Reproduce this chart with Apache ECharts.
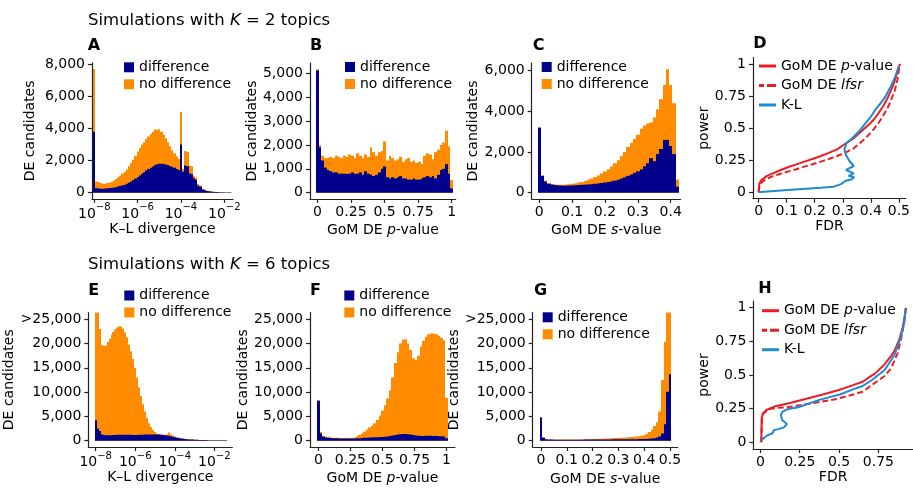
<!DOCTYPE html>
<html><head><meta charset="utf-8">
<script src="https://cdn.jsdelivr.net/npm/echarts@6/dist/echarts.min.js"></script>
<style>html,body{margin:0;padding:0;background:#fff}#c{width:913px;height:488px}</style>
</head><body><div id="c"></div>
<script>
// ---------------- DATA ----------------
// Panel A: K-L divergence histogram (log10 bins, width 0.1, first centre -8.0)
const aFirstBin = -8.0, aBinWidth = 0.1;
const aAll  = [7700, 700,650,600,560,560,600,620,680,750,850, 950,1050,1200,1300,1450,1650,1850,2050,2300,2550, 2800,3000,3150,3350,3500,3650,3800,3950,3900,3950, 3800,3600,3400,3150,2900,2650,2450,2250,2100,5050, 1500,2600,2550,1700,1650,1050,950,550,450,250, 200,130,100,80,60,50,40,35,30,30, 25,25,20];
const aDiff = [3800, 280,260,250,250,260,270,290,300,320,340, 380,420,460,500,560,620,700,780,880,980, 1080,1180,1280,1380,1480,1560,1640,1720,1780,1800, 1800,1790,1760,1720,1670,1620,1560,1480,1420,3000, 1300,1700,1650,1200,1150,900,800,450,380,200, 160,110,85,70,55,45,38,32,28,28, 23,22,18];
// Panel B: GoM DE p-value histogram (bin width 0.02, first centre 0)
const bFirstBin = 0, bBinWidth = 0.02;
const bAll  = [5170,2000,1550,1450,1450,1500,1450,1550,1500,1450, 1550,1500,1600,1550,1450,1650,1550,1450,1600,1500, 1900,1700,1550,1700,1750,2150,1350,1550,1450,1350, 1400,1500,1300,1400,1450,1300,1350,1250,1300,1200, 1550,1650,1600,1400,1700,1800,2000,2100,2600,1950, 530];
const bDiff = [5120,1900,1350,1050,950,900,850,850,800,800, 800,780,800,850,780,800,850,750,900,800, 750,700,750,850,1000,1100,650,600,650,600, 650,700,600,600,550,550,600,550,550,600, 650,700,650,700,600,750,950,1000,1200,800, 180];
// Panel C: GoM DE s-value histogram (bin width 0.01, first centre 0)
const cFirstBin = 0, cBinWidth = 0.01;
const cAll  = [3200,850,600,470,420,400,400,390,400,420, 440,460,500,530,580,640,700,770,850,950, 1050,1150,1300,1450,1600,1800,2000,2250,2450,2650, 2850,3150,3300,3400,3450,3700,4100,4600,5300,6070, 5300,4400,650];
const cDiff = [3200,830,550,440,400,380,360,350,350,350, 360,370,380,390,400,410,420,440,460,480, 500,530,560,600,640,700,760,830,900,980, 1050,1150,1300,1450,1700,1550,1900,2150,2600,2600, 2300,1900,300];
// Panel D: power vs FDR, K = 2  ([FDR, power])
const dPval = [[0,0],[0.001,0.04],[0.003,0.07],[0.01,0.095],[0.016,0.109],[0.03,0.128],[0.046,0.143],[0.075,0.17],[0.104,0.195],[0.135,0.218],[0.163,0.239],[0.192,0.26],[0.222,0.283],[0.25,0.307],[0.28,0.335],[0.31,0.38],[0.339,0.421],[0.374,0.491],[0.392,0.525],[0.41,0.565],[0.427,0.616],[0.445,0.675],[0.462,0.745],[0.475,0.81],[0.486,0.875],[0.495,0.94],[0.5,0.98],[0.505,1.0]];
const dLfsr = [[0,0],[0.003,0.05],[0.01,0.075],[0.022,0.096],[0.046,0.122],[0.075,0.142],[0.104,0.161],[0.135,0.18],[0.163,0.2],[0.192,0.219],[0.222,0.239],[0.25,0.26],[0.28,0.283],[0.31,0.31],[0.339,0.343],[0.374,0.408],[0.392,0.447],[0.41,0.49],[0.427,0.538],[0.445,0.6],[0.462,0.668],[0.476,0.74],[0.486,0.797],[0.495,0.88],[0.5,0.953],[0.503,0.99]];
const dKL   = [[0,0],[0.02,0.005],[0.104,0.018],[0.222,0.036],[0.268,0.044],[0.294,0.064],[0.31,0.09],[0.33,0.1],[0.341,0.117],[0.321,0.127],[0.339,0.148],[0.312,0.174],[0.339,0.205],[0.324,0.244],[0.311,0.291],[0.306,0.335],[0.313,0.382],[0.339,0.433],[0.36,0.48],[0.378,0.53],[0.4,0.59],[0.42,0.655],[0.437,0.7],[0.453,0.75],[0.47,0.82],[0.485,0.89],[0.495,0.95],[0.5,0.985]];
// Panel E: K-L divergence histogram, K = 6 (log10 bins, width 0.1, first centre -8.0)
const eFirstBin = -8.0, eBinWidth = 0.1;
const eAll  = [26600,26600,23000,19700,19500,19600,20300,21000,21800,22400, 22900,23300,23500,23500,23100,22300,21300,19800,18400,16800, 15000,13000,11000,9200,7500,6000,4700,3600,2800,2200, 1800,1500,1400,1350,1300,1250,1300,1700,1300,1000, 850,700,600,520,450,400,350,300,270,240, 210,190,170,160,150,140,130,120,110,100, 100,95,90,85,80,80,70];
const eDiff = [4200,2500,2000,1300,1150,1100,1100,1100,1100,1150, 1150,1200,1200,1200,1200,1200,1200,1200,1200,1150, 1150,1150,1200,1200,1200,1250,1250,1250,1300,1300, 1300,1300,1250,1200,1150,1100,1050,1000,900,800, 700,600,520,450,400,350,300,270,240,220, 200,180,160,150,140,130,120,110,105,95, 95,90,85,80,75,75,65];
// Panel F: GoM DE p-value histogram, K = 6
const fFirstBin = 0, fBinWidth = 0.02;
const fAll  = [8300,1800,1000,800,700,650,600,600,600,550, 550,600,550,550,650,900,1200,1500,1900,2300, 2700,3100,3600,4300,5200,6200,7300,8700,10400,13000, 16000,18200,20000,20800,20900,20000,18700,17000,16600,17500, 19400,20600,21400,21900,22100,22100,21900,21600,21200,20700, 8800];
const fDiff = [8200,1500,800,650,600,550,500,480,470,450, 450,450,440,440,450,480,500,550,600,620, 650,680,700,720,750,780,820,880,950,1050, 1150,1250,1350,1400,1400,1350,1250,1150,1050,1000, 950,950,1000,1000,1000,950,950,900,900,850, 500];
// Panel G: GoM DE s-value histogram, K = 6
const gFirstBin = 0, gBinWidth = 0.01;
const gAll  = [4800,700,320,260,240,230,220,220,220,220, 230,230,240,250,260,270,280,290,300,320, 340,360,380,400,420,440,470,500,530,560, 590,620,650,680,720,760,800,850,900,1000, 1100,1400,1800,2300,3000,3800,6000,12500,20400,26600, 26600];
const gDiff = [4800,600,300,240,220,210,200,200,200,200, 200,200,205,205,210,210,215,220,225,230, 235,240,245,250,255,260,265,270,275,280, 285,290,295,300,305,310,315,320,325,330, 340,360,400,450,520,650,850,1500,3400,10100, 13700];
// Panel H: power vs FDR, K = 6
const hPval = [[0.006,0],[0.007,0.1],[0.008,0.178],[0.015,0.21],[0.038,0.24],[0.1,0.27],[0.181,0.29],[0.28,0.32],[0.385,0.351],[0.5,0.389],[0.589,0.425],[0.65,0.45],[0.7,0.49],[0.73,0.512],[0.79,0.58],[0.83,0.64],[0.852,0.68],[0.882,0.76],[0.903,0.847],[0.917,0.933],[0.923,0.988],[0.925,1.0]];
const hLfsr = [[0.006,0],[0.008,0.1],[0.012,0.19],[0.018,0.215],[0.059,0.247],[0.098,0.255],[0.181,0.262],[0.281,0.28],[0.385,0.301],[0.485,0.322],[0.589,0.355],[0.65,0.376],[0.709,0.426],[0.79,0.493],[0.831,0.55],[0.872,0.661],[0.897,0.785],[0.913,0.884],[0.923,0.97],[0.925,1.0]];
const hKL   = [[0.008,0.017],[0.038,0.047],[0.077,0.067],[0.087,0.091],[0.108,0.096],[0.149,0.111],[0.169,0.136],[0.138,0.166],[0.13,0.203],[0.141,0.227],[0.171,0.245],[0.24,0.26],[0.385,0.319],[0.505,0.355],[0.589,0.393],[0.65,0.418],[0.709,0.463],[0.79,0.537],[0.852,0.649],[0.893,0.785],[0.913,0.884],[0.921,0.97],[0.923,0.99]];
// Tick values
const logTicks = [-8,-6,-4,-2];
const aYTicks = [0,2000,4000,6000,8000];
const bYTicks = [0,1000,2000,3000,4000,5000];
const cYTicks = [0,2000,4000,6000];
const bigYTicks = [0,5000,10000,15000,20000,25000];
const pTicks = [0,0.25,0.5,0.75,1];
const cXTicks = [0,0.1,0.2,0.3,0.4];
const dXTicks = [0,0.1,0.2,0.3,0.4,0.5];
const gXTicks = [0,0.1,0.2,0.3,0.4,0.5];
const powTicks = [0,0.25,0.5,0.75,1];
const hXTicks = [0,0.25,0.5,0.75];

// ---------------- STYLE ----------------
const FF = "'DejaVu Sans', sans-serif";
const colDiff = '#00008B', colNo = '#FF8C00', colRed = '#EC1C24', colBlue = '#1C8BD3';
const axCol = '#222';
const FS = 14;

const chart = echarts.init(document.getElementById('c'), null, {renderer:'canvas'});

const grid = [], xAxis = [], yAxis = [], series = [];
const richBase = {
  n:{fontSize:FS, fontFamily:FF, color:'#000'},
  i:{fontSize:FS, fontFamily:FF, color:'#000', fontStyle:'italic'}
};
function comma(v){ return String(v).replace(/\B(?=(\d{3})+(?!\d))/g, ','); }

function addPanel(p){
  const idx = grid.length;
  grid.push({left:p.g[0], top:p.g[1], width:p.g[2], height:p.g[3], containLabel:false});
  const isLog = p.log;
  xAxis.push({
    type:'value', gridIndex:idx, min:p.xr[0], max:p.xr[1],
    axisLine:{show:true, onZero:false, lineStyle:{color:axCol, width:1.2}},
    axisTick:{show:true, length:4, lineStyle:{color:axCol, width:1.2}, customValues:p.xt},
    splitLine:{show:false},
    axisLabel: isLog ? {
      customValues:p.xt, margin:p.xm,
      formatter: v => '{b|10}{s|\u2212' + Math.abs(v) + '}',
      rich:{b:{fontSize:FS, fontFamily:FF, color:'#000', lineHeight:18, verticalAlign:'bottom'},
            s:{fontSize:10, fontFamily:FF, color:'#000', lineHeight:10, verticalAlign:'top'}}
    } : {customValues:p.xt, margin:p.xm, fontSize:FS, fontFamily:FF, color:'#000', formatter: v => String(v)},
    name:p.xn, nameLocation:'middle', nameGap:p.xg,
    nameTextStyle:{fontSize:FS, fontFamily:FF, color:'#000', rich:richBase}
  });
  yAxis.push({
    type:'value', gridIndex:idx, min:p.yr[0], max:p.yr[1],
    axisLine:{show:true, onZero:false, lineStyle:{color:axCol, width:1.2}},
    axisTick:{show:true, length:4, lineStyle:{color:axCol, width:1.2}, customValues:p.yt},
    splitLine:{show:false},
    axisLabel:{customValues:p.yt, margin:7, fontSize:FS, fontFamily:FF, color:'#000',
      formatter: v => (p.cap && v === p.cap) ? '>' + comma(v) : (v >= 1000 ? comma(v) : String(v))},
    name:p.yn, nameLocation:'middle', nameGap:p.yg, nameRotate:90,
    nameTextStyle:{fontSize:FS, fontFamily:FF, color:'#000'}
  });
  if (p.hist) {
    const h = p.hist;
    const mk = (vals, color, name) => ({
      type:'custom', name, xAxisIndex:idx, yAxisIndex:idx, clip:true, silent:true,
      itemStyle:{color}, encode:{x:[0,1], y:2},
      data: vals.map((v,i) => [h.first + (i-0.5)*h.width, h.first + (i+0.5)*h.width, v]),
      renderItem:(params, api) => {
        const p0 = api.coord([api.value(0), api.value(2)]);
        const p1 = api.coord([api.value(1), 0]);
        const x0 = Math.round(p0[0]), x1 = Math.round(p1[0]);
        return {type:'rect', shape:{x:x0, y:p0[1], width:Math.max(1, x1-x0), height:p1[1]-p0[1]},
                style:{fill:color}};
      }
    });
    series.push(mk(h.all, colNo, 'no difference'));
    series.push(mk(h.diff, colDiff, 'difference'));
  }
  if (p.lines) {
    p.lines.forEach(l => series.push({
      type:'line', name:l.name, xAxisIndex:idx, yAxisIndex:idx, data:l.data,
      showSymbol:false, symbol:'none', smooth:false, silent:true,
      lineStyle:{color:l.color, width:2, type:l.dash ? [6,3] : 'solid'},
      itemStyle:{color:l.color}
    }));
  }
}

const xName = (a,b,c) => '{n|' + a + '}{i|' + b + '}{n|' + c + '}';

addPanel({g:[92,62.9,141,136], xr:[-8.106,-1.598], yr:[-385,8085], log:true, xt:logTicks, xm:4, yt:aYTicks,
  xn:'K\u2013L divergence', xg:23, yn:'DE candidates', yg:55,
  hist:{first:aFirstBin, width:aBinWidth, all:aAll, diff:aDiff}});
addPanel({g:[310,63.1,145.7,135.8], xr:[-0.055,1.03], yr:[-258,5428], xt:pTicks, xm:6, yt:bYTicks,
  xn:xName('GoM DE ','p','-value'), xg:24, yn:'DE candidates', yg:46,
  hist:{first:bFirstBin, width:bBinWidth, all:bAll, diff:bDiff}});
addPanel({g:[531.7,63.1,148.9,135.8], xr:[-0.023,0.43], yr:[-303,6373], xt:cXTicks, xm:6, yt:cYTicks,
  xn:xName('GoM DE ','s','-value'), xg:24, yn:'DE candidates', yg:46,
  hist:{first:cFirstBin, width:cBinWidth, all:cAll, diff:cDiff}});
addPanel({g:[753,57.6,154.8,141.1], xr:[-0.02,0.525], yr:[-0.05,1.05], xt:dXTicks, xm:6, yt:powTicks,
  xn:'FDR', xg:19, yn:'power', yg:40,
  lines:[{name:'GoM DE p-value', data:dPval, color:colRed},
         {name:'GoM DE lfsr', data:dLfsr, color:colRed, dash:true},
         {name:'K-L', data:dKL, color:colBlue}]});
addPanel({g:[88.3,312.5,144,134.5], xr:[-8.374,-1.09], yr:[-1300,26400], log:true, xt:logTicks, xm:4, yt:bigYTicks, cap:25000,
  xn:'K\u2013L divergence', xg:22, yn:'DE candidates', yg:61,
  hist:{first:eFirstBin, width:eBinWidth, all:eAll, diff:eDiff}});
addPanel({g:[310,312.5,144.9,134.5], xr:[-0.065,1.065], yr:[-1300,26400], xt:pTicks, xm:6, yt:bigYTicks,
  xn:xName('GoM DE ','p','-value'), xg:24, yn:'DE candidates', yg:53,
  hist:{first:fFirstBin, width:fBinWidth, all:fAll, diff:fDiff}});
addPanel({g:[532.7,312.5,145,134.5], xr:[-0.032,0.53], yr:[-1300,26400], xt:gXTicks, xm:6, yt:bigYTicks, cap:25000,
  xn:xName('GoM DE ','s','-value'), xg:25, yn:'DE candidates', yg:61,
  hist:{first:gFirstBin, width:gBinWidth, all:gAll, diff:gDiff}});
addPanel({g:[753.3,301,166.1,148], xr:[-0.045,0.97], yr:[-0.05,1.05], xt:hXTicks, xm:6, yt:powTicks,
  xn:'FDR', xg:15, yn:'power', yg:37,
  lines:[{name:'GoM DE p-value', data:hPval, color:colRed},
         {name:'GoM DE lfsr', data:hLfsr, color:colRed, dash:true},
         {name:'K-L', data:hKL, color:colBlue}]});

const histLegend = (left, top) => ({
  left, top, orient:'vertical', padding:0, itemGap:1, itemWidth:10, itemHeight:10, icon:'rect',
  selectedMode:false, data:['difference','no difference'],
  textStyle:{fontSize:FS, fontFamily:FF, color:'#000', lineHeight:16}
});
const solidIcon = 'path://M0,0H17V3H0Z';
const dashIcon = 'path://M0,0H5V3H0Z M8,0H17V3H8Z';
const lineLegend = (left, top) => ({
  left, top, orient:'vertical', padding:0, itemGap:3.5, itemWidth:17, itemHeight:3,
  selectedMode:false,
  data:[{name:'GoM DE p-value', icon:solidIcon},{name:'GoM DE lfsr', icon:dashIcon},{name:'K-L', icon:solidIcon}],
  formatter: n => n === 'GoM DE p-value' ? '{n|GoM DE }{i|p}{n|-value}' : (n === 'GoM DE lfsr' ? '{n|GoM DE }{i|lfsr}' : '{n|K-L}'),
  textStyle:{fontSize:FS, fontFamily:FF, color:'#000', lineHeight:16,
    rich:{n:{fontSize:FS, fontFamily:FF, color:'#000', lineHeight:16},
          i:{fontSize:FS, fontFamily:FF, color:'#000', lineHeight:16, fontStyle:'italic'}}}
});

const titleRich = {n:{fontSize:16.5, fontFamily:FF, fill:'#000'}, i:{fontSize:16.5, fontFamily:FF, fill:'#000', fontStyle:'italic'}};
const letter = (t, x, y) => ({type:'text', left:x, top:y, style:{text:t, fontSize:16, fontWeight:'bold', fontFamily:FF, fill:'#000'}});

chart.setOption({
  animation:false,
  backgroundColor:'#fff',
  grid, xAxis, yAxis, series,
  legend:[histLegend(124,59.3), histLegend(345,59), histLegend(541.7,59), lineLegend(759,58),
          histLegend(124.3,287.5), histLegend(344.3,287.5), histLegend(542.7,309.3), lineLegend(762,302.7)],
  graphic:[
    {type:'text', left:88, top:12, style:{text:'{n|Simulations with }{i|K}{n| = 2 topics}', rich:titleRich}},
    {type:'text', left:88, top:256, style:{text:'{n|Simulations with }{i|K}{n| = 6 topics}', rich:titleRich}},
    letter('A',87.7,37.5), letter('B',310,37.5), letter('C',532.7,37.5), letter('D',753.3,36),
    letter('E',88.3,282.5), letter('F',310,282.5), letter('G',534,282.5), letter('H',758.3,281)
  ]
});
</script></body></html>
